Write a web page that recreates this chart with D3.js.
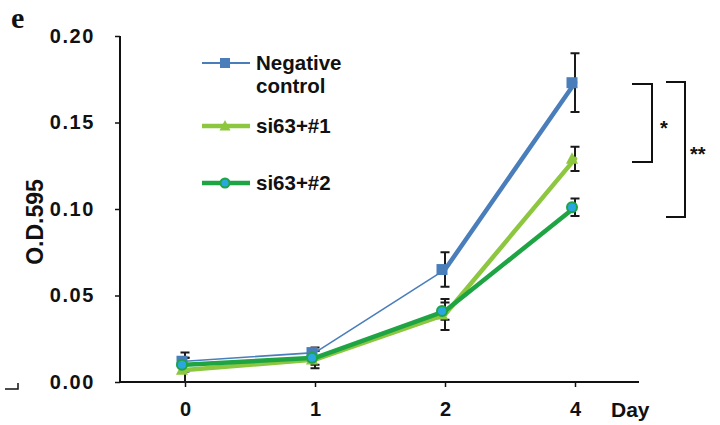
<!DOCTYPE html>
<html><head><meta charset="utf-8">
<script src="https://cdn.jsdelivr.net/npm/d3@7"></script>
<style>body{margin:0;background:#fff}svg{display:block}</style>
</head><body>
<svg id="c" width="720" height="425"></svg>
<script>
const days = ["0","1","2","4"];
const yTicks = [0, 0.05, 0.10, 0.15, 0.20];
const seriesNames = ["Negative control", "si63+#1", "si63+#2"];
const ncValues = [0.012, 0.017, 0.065, 0.173];
const ncErrors = [0.005, 0.003, 0.010, 0.017];
const s1Values = [0.007, 0.013, 0.039, 0.129];
const s1Errors = [0.007, 0.005, 0.009, 0.007];
const s2Values = [0.010, 0.014, 0.041, 0.101];
const s2Errors = [0.004, 0.004, 0.005, 0.005];

const svg = d3.select("#c");
const x = d3.scalePoint().domain(days).range([120, 640]).padding(0.5);
const y = d3.scaleLinear().domain([0, 0.20]).range([382, 36]);
const font = "'Liberation Sans', Arial, sans-serif";

const series = [
  {name: seriesNames[0], vals: ncValues, errs: ncErrors, color: "#4a7ebb", widths: [1.6, 1.6, 4.5], shape: "square"},
  {name: seriesNames[1], vals: s1Values, errs: s1Errors, color: "#8dc63f", widths: [4.5, 4.5, 4.5], shape: "triangle"},
  {name: seriesNames[2], vals: s2Values, errs: s2Errors, color: "#1fa443", widths: [4.5, 4.5, 4.5], shape: "circle"}
];

// panel letter
svg.append("text").attr("x", 11).attr("y", 28).attr("font-family", "'Liberation Serif', 'Times New Roman', serif")
  .attr("font-weight", "bold").attr("font-size", 30).attr("fill", "#111").text("e");

// axes
const yAxis = svg.append("g").attr("transform", "translate(120,0)")
  .call(d3.axisLeft(y).tickValues(yTicks).tickFormat(d3.format(".2f")).tickSize(5).tickPadding(20));
const xAxis = svg.append("g").attr("transform", "translate(0,382)")
  .call(d3.axisBottom(x).tickSize(5).tickPadding(15));
[yAxis, xAxis].forEach(g => {
  g.select(".domain").attr("stroke", "#111").attr("stroke-width", 2);
  g.selectAll(".tick line").attr("stroke", "#111").attr("stroke-width", 1.5);
  g.selectAll(".tick text").attr("font-family", font).attr("font-weight", "bold")
    .attr("font-size", 20).attr("fill", "#111");
});
yAxis.selectAll(".tick text").attr("letter-spacing", 1.6);
yAxis.select(".domain").attr("d", "M0," + y(0.20) + "V" + y(0));
xAxis.select(".domain").attr("d", "M120,0H639");

svg.append("text").attr("transform", "translate(43,222) rotate(-90)").attr("text-anchor", "middle")
  .attr("font-family", font).attr("font-weight", "bold").attr("font-size", 23).attr("fill", "#111").text("O.D.595");
svg.append("text").attr("x", 611).attr("y", 416.5).attr("font-family", font).attr("font-weight", "bold")
  .attr("font-size", 21).attr("fill", "#111").text("Day");
svg.append("path").attr("d", "M5,389H18V383").attr("fill", "none").attr("stroke", "#111").attr("stroke-width", 1.5);

// error bars
const cap = 4.5;
series.forEach(s => {
  s.vals.forEach((v, i) => {
    const cx = x(days[i]);
    const lo = Math.max(0, v - s.errs[i]), hi = v + s.errs[i];
    svg.append("path")
      .attr("d", `M${cx},${y(hi)}V${y(lo)}M${cx - cap},${y(hi)}H${cx + cap}M${cx - cap},${y(lo)}H${cx + cap}`)
      .attr("stroke", "#1a1a1a").attr("stroke-width", 2).attr("fill", "none");
  });
});

// lines
series.forEach(s => {
  for (let i = 0; i < s.vals.length - 1; i++) {
    svg.append("line")
      .attr("x1", x(days[i])).attr("y1", y(s.vals[i]))
      .attr("x2", x(days[i + 1])).attr("y2", y(s.vals[i + 1]))
      .attr("stroke", s.color).attr("stroke-width", s.widths[i]).attr("stroke-linecap", "round");
  }
});

// markers
function marker(g, shape, cx, cy, s, size) {
  if (shape === "square") {
    g.append("rect").attr("x", cx - size / 2).attr("y", cy - size / 2).attr("width", size).attr("height", size)
      .attr("fill", s.color);
  } else if (shape === "triangle") {
    const h = size;
    g.append("path").attr("d", `M${cx},${cy - h * 0.6}L${cx + h * 0.55},${cy + h * 0.45}L${cx - h * 0.55},${cy + h * 0.45}Z`)
      .attr("fill", s.color);
  } else {
    g.append("circle").attr("cx", cx).attr("cy", cy).attr("r", size / 2 - 0.5)
      .attr("fill", "#2aa7e0").attr("stroke", s.color).attr("stroke-width", 2);
  }
}
const mOff = -3;
series.forEach(s => {
  s.vals.forEach((v, i) => marker(svg, s.shape, x(days[i]) + mOff, y(v), s, 11));
});

// legend
const legendY = [63, 126, 183];
series.forEach((s, i) => {
  const ly = legendY[i];
  svg.append("line").attr("x1", 202).attr("x2", 250).attr("y1", ly).attr("y2", ly)
    .attr("stroke", s.color).attr("stroke-width", i === 0 ? 1.8 : 4.5);
  marker(svg, s.shape, 225, ly, s, 10);
});
const lt = svg.append("g").attr("font-family", font).attr("font-weight", "bold").attr("font-size", 20.5).attr("fill", "#111");
lt.append("text").attr("x", 256).attr("y", 70).text("Negative");
lt.append("text").attr("x", 256).attr("y", 93).text("control");
lt.append("text").attr("x", 256).attr("y", 133).text(seriesNames[1]);
lt.append("text").attr("x", 256).attr("y", 189.5).text(seriesNames[2]);

// significance brackets
svg.append("path").attr("d", "M632,84H652V162H632").attr("fill", "none").attr("stroke", "#111").attr("stroke-width", 2);
svg.append("path").attr("d", "M666,82H685V217H666").attr("fill", "none").attr("stroke", "#111").attr("stroke-width", 2);
svg.append("text").attr("x", 660).attr("y", 135).attr("font-family", font).attr("font-weight", "bold").attr("font-size", 20).attr("fill", "#111").text("*");
svg.append("text").attr("x", 690).attr("y", 161).attr("font-family", font).attr("font-weight", "bold").attr("font-size", 20).attr("fill", "#111").text("**");
</script>
</body></html>
